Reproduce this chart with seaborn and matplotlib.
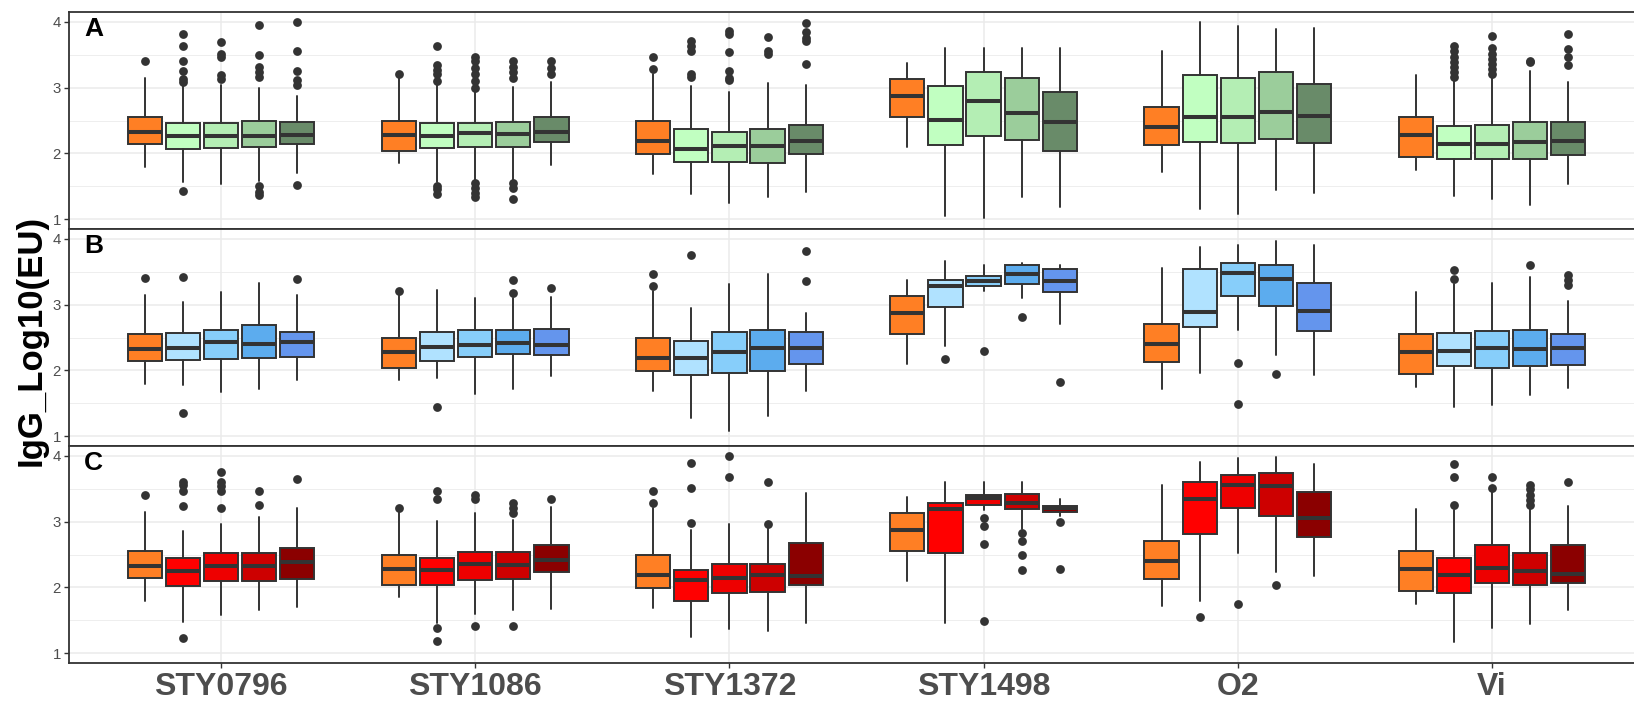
import matplotlib
matplotlib.use("Agg")
import matplotlib.pyplot as plt
import numpy as np
import pandas as pd
import seaborn as sns

antigens = ["STY0796", "STY1086", "STY1372", "STY1498", "O2", "Vi"]
panels = ["A", "B", "C"]

# Reference group (orange), shared by every panel; one value per antigen
ref_lo = [1.80, 1.85, 1.69, 2.10, 1.71, 1.74]
ref_q1 = [2.15, 2.03, 1.99, 2.55, 2.12, 1.94]
ref_med = [2.33, 2.28, 2.19, 2.87, 2.40, 2.28]
ref_q3 = [2.56, 2.49, 2.49, 3.13, 2.71, 2.55]
ref_hi = [3.14, 3.14, 3.21, 3.37, 3.56, 3.19]
ref_out = [[3.40], [3.20], [3.29, 3.47], [], [], []]

# Panel A: rows = antigen, columns = groups 1-4
A_lo = [[1.56, 1.54, 1.58, 1.70], [1.56, 1.60, 1.60, 1.82], [1.38, 1.25, 1.34, 1.42],
        [1.05, 1.02, 1.34, 1.19], [1.15, 1.08, 1.45, 1.39], [1.35, 1.30, 1.21, 1.54]]
A_q1 = [[2.07, 2.08, 2.10, 2.15], [2.08, 2.10, 2.09, 2.17], [1.87, 1.87, 1.85, 1.99],
        [2.13, 2.27, 2.21, 2.04], [2.17, 2.16, 2.22, 2.16], [1.91, 1.91, 1.91, 1.97]]
A_med = [[2.26, 2.26, 2.27, 2.28], [2.27, 2.31, 2.30, 2.32], [2.07, 2.11, 2.11, 2.19],
         [2.51, 2.80, 2.62, 2.48], [2.56, 2.55, 2.63, 2.57], [2.15, 2.14, 2.18, 2.19]]
A_q3 = [[2.46, 2.46, 2.50, 2.48], [2.46, 2.46, 2.47, 2.55], [2.37, 2.33, 2.37, 2.43],
        [3.03, 3.23, 3.14, 2.94], [3.19, 3.14, 3.24, 3.06], [2.41, 2.43, 2.47, 2.47]]
A_hi = [[3.05, 3.04, 3.00, 2.87], [3.04, 2.94, 3.01, 3.08], [3.02, 2.93, 3.07, 3.04],
        [3.60, 3.61, 3.61, 3.61], [4.00, 3.94, 3.89, 3.90], [3.11, 3.16, 3.25, 3.09]]
A_out = [
    [[3.09, 3.13, 3.26, 3.41, 3.64, 3.81, 1.43], [3.13, 3.19, 3.46, 3.51, 3.69],
     [3.16, 3.24, 3.31, 3.49, 3.95, 1.50, 1.42, 1.36], [3.04, 3.11, 3.26, 3.56, 4.00, 1.52]],
    [[3.64, 3.34, 3.27, 3.20, 3.10, 1.51, 1.46, 1.38],
     [3.47, 3.40, 3.30, 3.20, 3.10, 3.00, 1.55, 1.48, 1.40, 1.33],
     [3.41, 3.32, 3.24, 3.14, 1.55, 1.47, 1.31], [3.41, 3.30, 3.21]],
    [[3.16, 3.20, 3.56, 3.64, 3.71], [3.11, 3.15, 3.26, 3.54, 3.81, 3.86],
     [3.51, 3.56, 3.77], [3.36, 3.71, 3.76, 3.84, 3.99]],
    [[], [], [], []],
    [[], [], [], []],
    [[3.16, 3.24, 3.31, 3.39, 3.46, 3.56, 3.64], [3.21, 3.29, 3.36, 3.44, 3.51, 3.61, 3.79],
     [3.39, 3.41], [3.34, 3.46, 3.59, 3.81]],
]

# Panel B
B_lo = [[1.785, 1.675, 1.72, 1.86], [1.88, 1.64, 1.71, 1.91], [1.27, 1.085, 1.31, 1.685],
        [2.37, 3.21, 3.095, 2.70], [1.96, 2.61, 2.235, 1.935], [1.445, 1.475, 1.625, 1.725]]
B_q1 = [[2.16, 2.18, 2.185, 2.205], [2.15, 2.21, 2.25, 2.23], [1.935, 1.955, 1.985, 2.095],
        [2.96, 3.285, 3.31, 3.195], [2.655, 3.125, 2.975, 2.595], [2.06, 2.035, 2.07, 2.075]]
B_med = [[2.345, 2.435, 2.395, 2.43], [2.36, 2.38, 2.42, 2.38], [2.185, 2.285, 2.345, 2.345],
         [3.285, 3.355, 3.47, 3.36], [2.895, 3.485, 3.395, 2.91], [2.30, 2.335, 2.325, 2.335]]
B_q3 = [[2.57, 2.62, 2.685, 2.585], [2.58, 2.62, 2.62, 2.63], [2.45, 2.585, 2.61, 2.585],
        [3.38, 3.43, 3.61, 3.535], [3.545, 3.63, 3.61, 3.325], [2.575, 2.595, 2.62, 2.56]]
B_hi = [[3.035, 3.195, 3.335, 3.145], [3.22, 3.10, 3.10, 3.12], [2.945, 3.32, 3.46, 2.875],
        [3.66, 3.60, 3.63, 3.61], [3.875, 3.905, 3.97, 3.90], [3.31, 3.335, 3.42, 3.06]]
B_out = [
    [[3.425, 1.35], [], [], [3.395]],
    [[1.44], [], [3.38, 3.18], [3.26]],
    [[3.75], [], [], [3.36, 3.81]],
    [[2.17], [2.30], [2.805], [1.83]],
    [[], [2.11, 1.485], [1.945], []],
    [[3.395, 3.525], [], [3.60], [3.445, 3.375, 3.295]],
]

# Panel C
C_lo = [[1.48, 1.58, 1.65, 1.70], [1.46, 1.60, 1.65, 1.67], [1.24, 1.36, 1.33, 1.46],
        [1.46, 3.18, 2.89, 3.09], [1.80, 2.53, 2.23, 2.18], [1.17, 1.38, 1.44, 1.65]]
C_q1 = [[2.02, 2.10, 2.10, 2.12], [2.03, 2.11, 2.13, 2.23], [1.80, 1.92, 1.93, 2.03],
        [2.52, 3.25, 3.19, 3.15], [2.81, 3.20, 3.09, 2.76], [1.92, 2.06, 2.03, 2.07]]
C_med = [[2.255, 2.32, 2.32, 2.39], [2.26, 2.35, 2.34, 2.41], [2.11, 2.15, 2.19, 2.17],
         [3.19, 3.36, 3.29, 3.20], [3.34, 3.55, 3.54, 3.05], [2.19, 2.29, 2.25, 2.20]]
C_q3 = [[2.45, 2.53, 2.53, 2.60], [2.45, 2.54, 2.54, 2.64], [2.27, 2.35, 2.35, 2.67],
        [3.28, 3.41, 3.42, 3.24], [3.61, 3.71, 3.74, 3.45], [2.44, 2.64, 2.52, 2.64]]
C_hi = [[2.86, 2.96, 3.07, 3.20], [3.01, 3.13, 3.03, 3.22], [2.88, 2.97, 2.90, 3.44],
        [3.60, 3.61, 3.61, 3.34], [3.90, 3.97, 3.98, 3.87], [3.18, 3.46, 3.20, 3.23]]
C_out = [
    [[3.23, 3.47, 3.55, 3.61, 1.23], [3.20, 3.46, 3.54, 3.60, 3.75], [3.25, 3.47], [3.655]],
    [[3.47, 3.34, 1.38, 1.19], [3.41, 3.35, 1.42], [3.28, 3.20, 3.13, 1.41], [3.34]],
    [[2.98, 3.51, 3.89], [3.68, 4.00], [2.97, 3.60], []],
    [[], [3.05, 2.94, 2.66, 1.49], [2.83, 2.71, 2.49, 2.26], [3.00, 2.28]],
    [[1.545], [1.75], [2.04], []],
    [[3.25, 3.68, 3.87], [3.51, 3.68], [3.25, 3.33, 3.41, 3.49, 3.55], [3.60]],
]

ref_color = "#FF7F24"
panel_colors = {
    "A": ["#C1FFC1", "#B4EEB4", "#9BCD9B", "#698B69"],
    "B": ["#B0E2FF", "#87CEFA", "#5CACEE", "#6495ED"],
    "C": ["#FF0000", "#EE0000", "#CD0000", "#8B0000"],
}
panel_stats = {
    "A": (A_lo, A_q1, A_med, A_q3, A_hi, A_out),
    "B": (B_lo, B_q1, B_med, B_q3, B_hi, B_out),
    "C": (C_lo, C_q1, C_med, C_q3, C_hi, C_out),
}

# long-form tables of box summaries and of outlying points
box_rows, out_rows = [], []
for p in panels:
    lo, q1, med, q3, hi, out = panel_stats[p]
    for i, ag in enumerate(antigens):
        entries = [(ref_lo[i], ref_q1[i], ref_med[i], ref_q3[i], ref_hi[i], ref_out[i], ref_color)]
        for g in range(4):
            entries.append((lo[i][g], q1[i][g], med[i][g], q3[i][g], hi[i][g], out[i][g],
                            panel_colors[p][g]))
        for slot, (l, a, m, b, h, o, col) in enumerate(entries):
            box_rows.append(dict(panel=p, antigen=ag, idx=i, slot=slot, whislo=l, q1=a,
                                 med=m, q3=b, whishi=h, color=col))
            for v in o:
                out_rows.append(dict(panel=p, antigen=ag, idx=i, slot=slot, value=v))
boxes = pd.DataFrame(box_rows)
outliers = pd.DataFrame(out_rows)

dodge = 0.15
box_w = 0.135
for df in (boxes, outliers):
    df["pos"] = df["idx"] + 1 + (df["slot"] - 2) * dodge

sns.set_theme(style="whitegrid")
plt.rcParams["font.family"] = ["Liberation Sans", "DejaVu Sans"]
narrow = ["Liberation Sans Narrow", "Liberation Sans", "DejaVu Sans"]

W, H = 1634, 702
fig = plt.figure(figsize=(W / 100, H / 100), dpi=100)
fig.patch.set_facecolor("white")

left_px, right_px = 68.5, 1644.5
top_px, bottom_px = 12, 663
ph = (bottom_px - top_px) / 3
edge = "#333333"

axes = []
for k, p in enumerate(panels):
    y0 = top_px + k * ph
    ax = fig.add_axes([left_px / W, 1 - (y0 + ph) / H, (right_px - left_px) / W, ph / H])
    axes.append(ax)
    ax.set_facecolor("white")
    sub = boxes[boxes.panel == p]
    stats = [dict(whislo=r.whislo, q1=r.q1, med=r.med, q3=r.q3, whishi=r.whishi, fliers=[])
             for r in sub.itertuples()]
    art = ax.bxp(stats, positions=sub["pos"].to_list(), widths=box_w, patch_artist=True,
                 showcaps=False, showfliers=False,
                 boxprops=dict(edgecolor=edge, linewidth=1.4),
                 whiskerprops=dict(color=edge, linewidth=1.4),
                 medianprops=dict(color=edge, linewidth=2.9, solid_capstyle="butt"),
                 manage_ticks=False, zorder=3)
    for patch, col in zip(art["boxes"], sub["color"]):
        patch.set_facecolor(col)
    sns.scatterplot(data=outliers[outliers.panel == p], x="pos", y="value", ax=ax,
                    color=edge, s=40, linewidth=0, legend=False, zorder=4)

    ax.set_xlim(0.4, 6.6)
    ax.set_ylim(0.85, 4.15)
    ax.set_yticks([1, 2, 3, 4])
    ax.set_yticks([1.5, 2.5, 3.5], minor=True)
    ax.set_xticks(range(1, 7))
    ax.grid(which="major", color="#EBEBEB", linewidth=1.1)
    ax.grid(which="minor", axis="y", color="#EBEBEB", linewidth=0.6)
    ax.set_axisbelow(True)
    ax.set_xlabel("")
    ax.set_ylabel("")
    for s in ("left", "top", "bottom"):
        ax.spines[s].set_visible(True)
        ax.spines[s].set_color(edge)
        ax.spines[s].set_linewidth(1.3)
    ax.spines["right"].set_visible(False)
    ax.tick_params(axis="y", which="major", left=True, length=3.5, width=1.0, color=edge,
                   pad=2, labelsize=10.8, labelcolor="#4D4D4D")
    ax.tick_params(axis="y", which="minor", left=False)
    for t in ax.get_yticklabels():
        t.set_family(narrow)
    ax.text(0.0098, 0.975, p, transform=ax.transAxes, ha="left", va="top",
            fontsize=19, fontweight="bold", color="black", zorder=6)
    if k < 2:
        ax.tick_params(axis="x", bottom=False, labelbottom=False)
    else:
        ax.set_xticklabels(antigens)
        ax.tick_params(axis="x", bottom=True, length=3.5, width=1.0, color=edge, pad=3,
                       labelsize=23, labelcolor="#4D4D4D")
        for t in ax.get_xticklabels():
            t.set_family(narrow)
            t.set_fontweight("bold")

fig.text(31 / W, 1 - 340 / H, "IgG_Log10(EU)", rotation=90, ha="center", va="center",
         fontsize=25, fontweight="bold", color="black")

fig.savefig("out.png", dpi=100, facecolor="white")
